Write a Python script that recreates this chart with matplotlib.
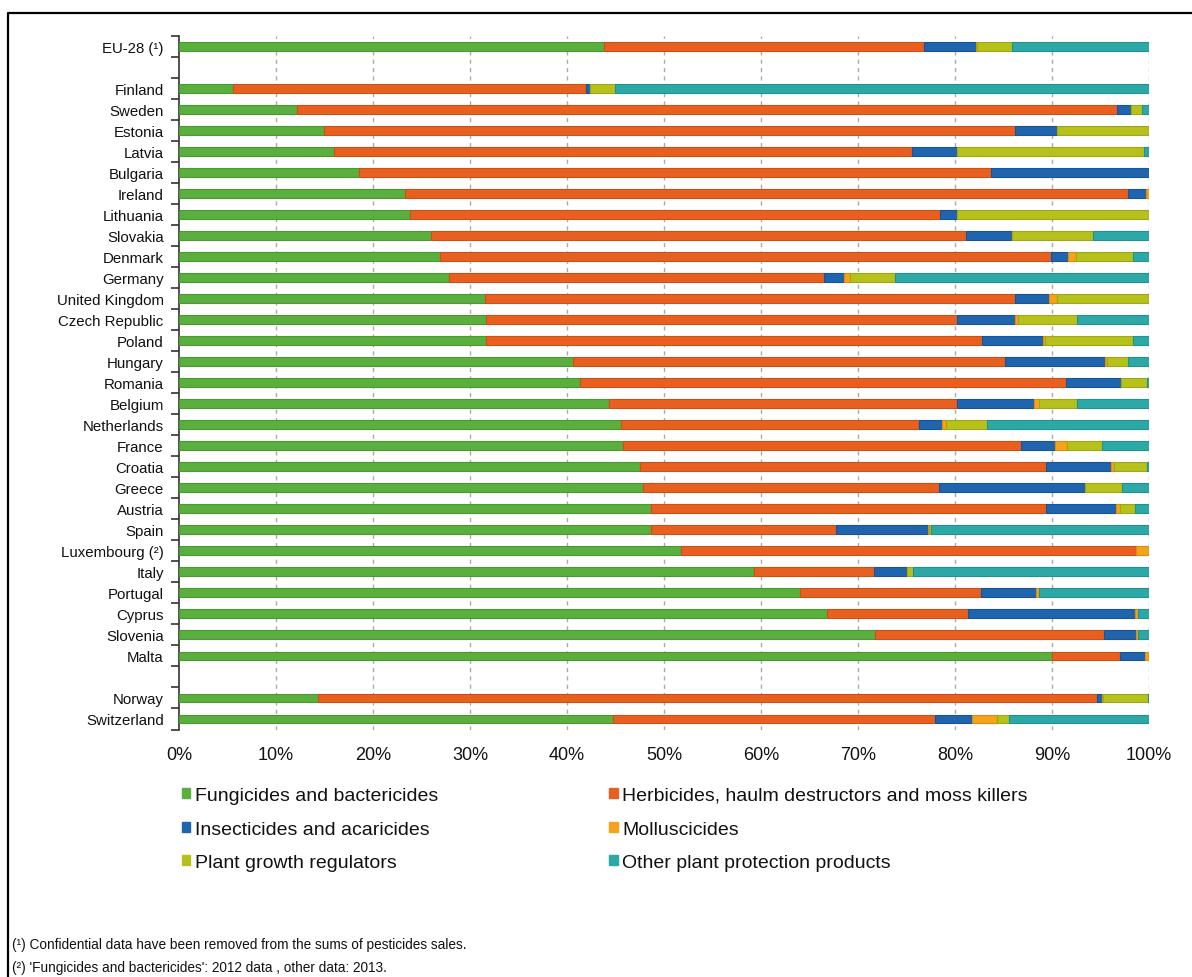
import matplotlib
matplotlib.use("Agg")
import matplotlib.pyplot as plt
from matplotlib.lines import Line2D
from matplotlib.patches import Patch
import numpy as np

plt.rcParams['font.family'] = ['Liberation Sans', 'DejaVu Sans']

countries = ["EU-28 (\u00b9)",
             "Finland", "Sweden", "Estonia", "Latvia", "Bulgaria", "Ireland", "Lithuania",
             "Slovakia", "Denmark", "Germany", "United Kingdom", "Czech Republic", "Poland",
             "Hungary", "Romania", "Belgium", "Netherlands", "France", "Croatia", "Greece",
             "Austria", "Spain", "Luxembourg (\u00b2)", "Italy", "Portugal", "Cyprus",
             "Slovenia", "Malta",
             "Norway", "Switzerland"]

fungicides = [43.8, 5.6, 12.2, 14.9, 16.0, 18.6, 23.3, 23.8, 26.0, 26.9, 27.8, 31.5, 31.6, 31.6,
              40.6, 41.3, 44.3, 45.6, 45.8, 47.5, 47.8, 48.7, 48.7, 51.8, 59.3, 64.0, 66.8,
              71.8, 90.0, 14.3, 44.7]
herbicides = [33.0, 36.4, 84.5, 71.3, 59.6, 65.1, 74.5, 54.7, 55.1, 63.0, 38.7, 54.7, 48.6, 51.2,
              44.6, 50.1, 35.9, 30.7, 41.0, 41.9, 30.6, 40.7, 19.0, 46.9, 12.3, 18.7, 14.5,
              23.6, 7.0, 80.3, 33.2]
insecticides = [5.35, 0.4, 1.4, 4.3, 4.6, 16.3, 1.9, 1.7, 4.8, 1.8, 2.1, 3.5, 6.0, 6.3,
                10.3, 5.7, 7.9, 2.4, 3.5, 6.7, 15.0, 7.2, 9.5, 0.0, 3.5, 5.7, 17.3,
                3.3, 2.6, 0.6, 3.9]
molluscicides = [0.15, 0.0, 0.0, 0.0, 0.0, 0.0, 0.3, 0.0, 0.0, 0.8, 0.6, 0.8, 0.3, 0.2,
                 0.2, 0.0, 0.6, 0.4, 1.2, 0.3, 0.0, 0.4, 0.1, 1.3, 0.0, 0.3, 0.3,
                 0.2, 0.4, 0.1, 2.5]
growth_regulators = [3.6, 2.5, 1.2, 9.5, 19.3, 0.0, 0.0, 19.8, 8.3, 5.8, 4.6, 9.5, 6.1, 9.1,
                     2.1, 2.7, 3.9, 4.2, 3.7, 3.4, 3.8, 1.6, 0.2, 0.0, 0.6, 0.0, 0.0,
                     0.0, 0.0, 4.6, 1.3]
other = [14.1, 55.1, 0.7, 0.0, 0.5, 0.0, 0.0, 0.0, 5.8, 1.7, 26.2, 0.0, 7.4, 1.7,
         2.2, 0.2, 7.4, 16.7, 4.8, 0.2, 2.8, 1.4, 22.5, 0.0, 24.3, 11.3, 1.1,
         1.1, 0.0, 0.1, 14.4]

series_names = ["Fungicides and bactericides",
                "Herbicides, haulm destructors and moss killers",
                "Insecticides and acaricides",
                "Molluscicides",
                "Plant growth regulators",
                "Other plant protection products"]
series_values = [fungicides, herbicides, insecticides, molluscicides, growth_regulators, other]
colors = ["#5BAF3E", "#E8601F", "#1F64AD", "#F5A31A", "#B6C11C", "#2CA9A7"]
edges = ["#4A9A30", "#CC5018", "#185595", "#D88E10", "#9DA814", "#22918F"]

tick_labels = ["0%", "10%", "20%", "30%", "40%", "50%", "60%", "70%", "80%", "90%", "100%"]

# layout: gap slot after EU-28 and after Malta
ypos = []
slot = 0
for i, c in enumerate(countries):
    ypos.append(slot)
    slot += 1
    if i == 0 or c == "Malta":
        slot += 1
ypos = np.array(ypos)
nslots = slot

W, H = 1192, 978
fig = plt.figure(figsize=(W / 100, H / 100), dpi=100)
ax = fig.add_axes([179 / W, 1 - 730.5 / H, 970 / W, (730.5 - 36.8) / H])

left = np.zeros(len(countries))
handles = []
for name, vals, col, ec in zip(series_names, series_values, colors, edges):
    v = np.array(vals)
    ax.barh(ypos, v, left=left, height=0.42, color=col, edgecolor=ec, linewidth=0.8, zorder=3)
    left += v
    handles.append(Patch(facecolor=col, edgecolor=col, label=name))

ax.set_xlim(0, 100)
ax.set_ylim(nslots - 0.5, -0.5)

ax.set_xticks(np.arange(0, 101, 10))
ax.set_xticklabels(tick_labels, fontsize=13, color="#111111")
ax.tick_params(axis='x', length=0, pad=12)

ax.set_yticks(ypos)
ax.set_yticklabels(countries, fontsize=10.8, color="#111111")
ax.tick_params(axis='y', which='major', length=0, pad=11)
ax.set_yticks(np.arange(-0.5, nslots, 1.0), minor=True)
ax.tick_params(axis='y', which='minor', length=6, width=1.2, color="#333333", direction='out')

for x in range(10, 101, 10):
    ax.axvline(x, color="#AAAAAA", linestyle=(0, (3, 3)), linewidth=1.0, zorder=1)

for s in ["top", "right", "bottom"]:
    ax.spines[s].set_visible(False)
ax.spines["left"].set_color("#333333")
ax.spines["left"].set_linewidth(1.2)

order = [0, 2, 4, 1, 3, 5]
leg = fig.legend([handles[i] for i in order], [series_names[i] for i in order],
                 ncol=2, loc="upper left", bbox_to_anchor=(182 / W, 1 - 788 / H),
                 frameon=False, fontsize=14, handlelength=0.42, handleheight=0.42,
                 handletextpad=0.25, columnspacing=8.8, labelspacing=0.85,
                 borderaxespad=0, borderpad=0)
for t in leg.get_texts():
    t.set_color("#111111")

fig.text(12 / W, 1 - 945 / H, "(\u00b9) Confidential data have been removed from the sums of pesticides sales.",
         fontsize=9.8, va="center", ha="left", color="#111111")
fig.text(12 / W, 1 - 968 / H, "(\u00b2) 'Fungicides and bactericides': 2012 data , other data: 2013.",
         fontsize=9.8, va="center", ha="left", color="#111111")

# outer frame (top and left edges visible)
fig.add_artist(Line2D([8 / W, 8 / W, 1.0], [0.0, 1 - 14 / H, 1 - 14 / H],
                      transform=fig.transFigure, color="black", linewidth=1.6))

fig.savefig("out.png", dpi=100)
